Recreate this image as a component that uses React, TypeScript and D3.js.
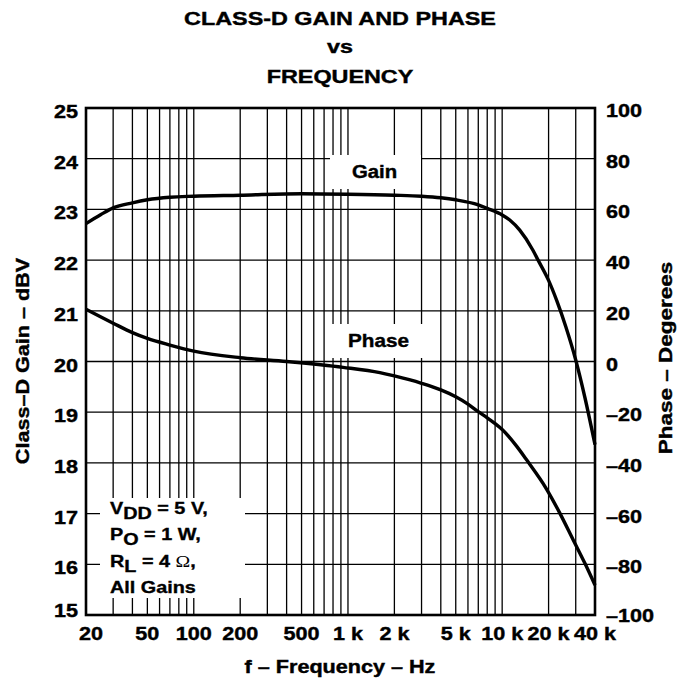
import React, { useRef, useEffect } from "react";
import * as d3 from "d3";

// frequency (Hz) vs gain (dBV)
const gainFreq = [20, 25, 30, 40, 50, 70, 100, 200, 500, 1000, 2000, 3000, 4000, 5000, 7000, 8000, 10000, 11200, 13000, 15800, 17100, 20000, 22600, 25900, 30000, 34400, 40000];
const gainDbv = [22.72, 22.9, 23.03, 23.13, 23.19, 23.24, 23.26, 23.28, 23.31, 23.3, 23.28, 23.26, 23.23, 23.19, 23.09, 23.02, 22.89, 22.79, 22.59, 22.2, 22.0, 21.6, 21.2, 20.68, 20.03, 19.29, 18.36];

// frequency (Hz) vs phase (degrees)
const phaseFreq = [20, 30, 40, 50, 70, 100, 200, 400, 930, 1610, 2000, 3000, 4000, 5000, 6000, 7000, 8000, 9000, 10000, 12400, 14400, 19400, 23700, 28900, 34400, 40000];
const phaseDeg = [20.6, 15.1, 11.4, 9.1, 6.5, 4.1, 1.5, 0, -2.3, -4.4, -5.7, -8.6, -11.2, -13.9, -16.8, -19.8, -22.2, -24.5, -26.8, -33.4, -38.8, -50.3, -59.9, -70.4, -79.6, -88.2];

const freqTicks = [20, 50, 100, 200, 500, 1000, 2000, 5000, 10000, 20000, 40000];
const freqTickLabels = ["20", "50", "100", "200", "500", "1 k", "2 k", "5 k", "10 k", "20 k", "40 k"];
const gainTicks = [15, 16, 17, 18, 19, 20, 21, 22, 23, 24, 25];
const phaseTicks = [-100, -80, -60, -40, -20, 0, 20, 40, 60, 80, 100];

const FONT = "'Liberation Sans', Arial, Helvetica, sans-serif";

const App = () => {
  const svgRef = useRef<SVGSVGElement>(null);

  useEffect(() => {
    const svg = d3.select(svgRef.current);
    svg.selectAll("*").remove();

    const left = 86, right = 595, top = 108, bottom = 615;

    const x = d3.scaleLog().domain([20, 40000]).range([left, right]);
    const yGain = d3.scaleLinear().domain([15, 25]).range([bottom, top]);
    const yPhase = d3.scaleLinear().domain([-100, 100]).range([bottom, top]);

    // bold text, a bit wider than Arial like the original
    const label = (
      txt: string, tx: number, ty: number,
      size = 18, anchor = "middle", rotate = 0, sx = 1.2
    ) =>
      svg
        .append("text")
        .attr("transform", `translate(${tx},${ty}) rotate(${rotate}) scale(${sx},1)`)
        .attr("text-anchor", anchor)
        .attr("font-family", FONT)
        .attr("font-weight", "bold")
        .attr("font-size", size)
        .attr("fill", "#000")
        .attr("stroke", "#000")
        .attr("stroke-width", 0.4)
        .text(txt);

    // title
    label("CLASS-D GAIN AND PHASE", 340, 25, 19, "middle", 0, 1.23);
    label("vs", 340, 53, 19, "middle", 0, 1.23);
    label("FREQUENCY", 340, 83, 19, "middle", 0, 1.23);

    // grid
    const grid = svg.append("g").attr("stroke", "#000").attr("stroke-width", 1.3);
    x.ticks().forEach((f) => {
      grid.append("line")
        .attr("x1", x(f)).attr("x2", x(f))
        .attr("y1", top).attr("y2", bottom);
    });
    gainTicks.forEach((g) => {
      grid.append("line")
        .attr("x1", left).attr("x2", right)
        .attr("y1", yGain(g)).attr("y2", yGain(g));
    });

    // white boxes behind in-plot labels
    const boxes = [
      [330, 155, 91, 34],
      [332, 324, 98, 34],
      [100, 498, 145, 100],
    ];
    boxes.forEach(([bx, by, bw, bh]) => {
      svg.append("rect")
        .attr("x", bx).attr("y", by)
        .attr("width", bw).attr("height", bh)
        .attr("fill", "#fff");
    });

    // frame
    svg.append("rect")
      .attr("x", left).attr("y", top)
      .attr("width", right - left).attr("height", bottom - top)
      .attr("fill", "none")
      .attr("stroke", "#000")
      .attr("stroke-width", 2.6);

    // curves
    const gainLine = d3.line<number>()
      .x((d, i) => x(gainFreq[i]))
      .y((d) => yGain(d))
      .curve(d3.curveMonotoneX);

    const phaseLine = d3.line<number>()
      .x((d, i) => x(phaseFreq[i]))
      .y((d) => yPhase(d))
      .curve(d3.curveMonotoneX);

    svg.append("path")
      .datum(gainDbv)
      .attr("fill", "none")
      .attr("stroke", "#000")
      .attr("stroke-width", 3.4)
      .attr("d", gainLine);

    svg.append("path")
      .datum(phaseDeg)
      .attr("fill", "none")
      .attr("stroke", "#000")
      .attr("stroke-width", 3.4)
      .attr("d", phaseLine);

    // left ticks
    gainTicks.forEach((g) => {
      label(String(g), 78, yGain(g) + (g === 15 ? 2 : 10), 18, "end");
    });

    // right ticks
    phaseTicks.forEach((p) => {
      const txt = p < 0 ? "\u2013" + Math.abs(p) : String(p);
      label(txt, 606, yPhase(p) + (p === -100 ? 7 : 9), 18, "start");
    });

    // bottom ticks
    freqTicks.forEach((f, i) => {
      label(freqTickLabels[i], x(f) + (i === 0 ? 5 : 0), 640, 18, "middle");
    });

    // axis titles
    label("f \u2013 Frequency \u2013 Hz", 340, 673, 18, "middle");
    label("Class\u2013D Gain \u2013 dBV", 29, 361, 18, "middle", -90);
    label("Phase \u2013 Degerees", 672, 358, 18, "middle", -90, 1.25);

    // curve labels
    label("Gain", 352, 178, 18, "start", 0, 1.13);
    label("Phase", 348, 347, 18, "start", 0, 1.15);

    // conditions
    const note = svg.append("g")
      .attr("font-family", FONT)
      .attr("font-weight", "bold")
      .attr("font-size", 16.5)
      .attr("stroke", "#000")
      .attr("stroke-width", 0.35);

    const noteLine = (ty: number) =>
      note.append("text").attr("transform", `translate(110,${ty}) scale(1.2,1)`);

    const l1 = noteLine(514);
    l1.append("tspan").text("V");
    l1.append("tspan").attr("dy", 5).text("DD");
    l1.append("tspan").attr("dy", -5).text(" = 5 V,");

    const l2 = noteLine(540);
    l2.append("tspan").text("P");
    l2.append("tspan").attr("dy", 5).text("O");
    l2.append("tspan").attr("dy", -5).text(" = 1 W,");

    const l3 = noteLine(567);
    l3.append("tspan").text("R");
    l3.append("tspan").attr("dy", 5).text("L");
    l3.append("tspan").attr("dy", -5).text(" = 4 ");
    l3.append("tspan")
      .attr("font-family", "'Liberation Serif', 'Times New Roman', serif")
      .attr("font-weight", "normal")
      .attr("stroke-width", 0)
      .text("\u03A9");
    l3.append("tspan").text(",");

    noteLine(593).text("All Gains");
  }, []);

  return (
    <svg
      ref={svgRef}
      width={688}
      height={681}
      style={{ position: "absolute", left: 0, top: 0, background: "#fff" }}
    ></svg>
  );
};

export default App;
